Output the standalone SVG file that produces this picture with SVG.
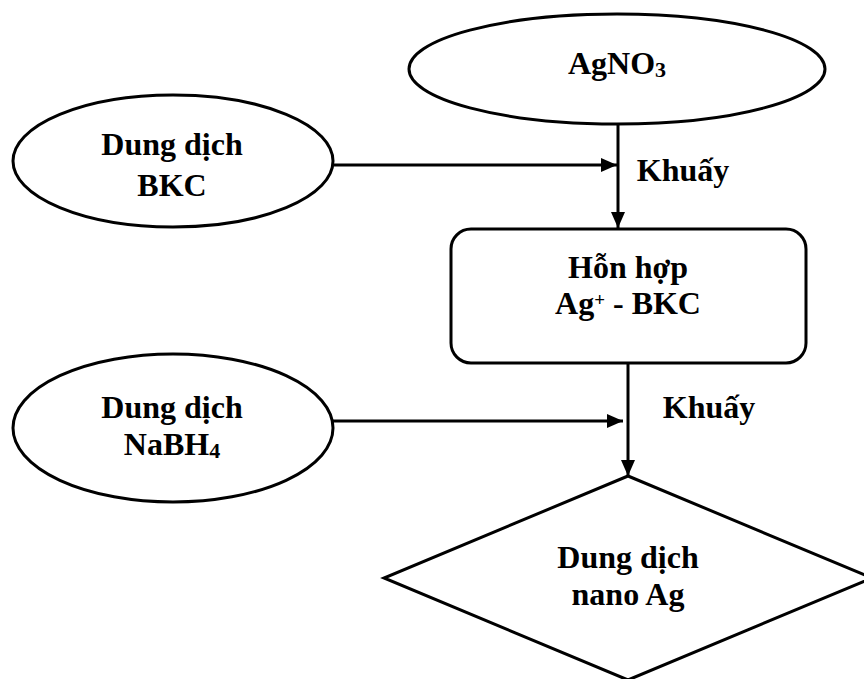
<svg xmlns="http://www.w3.org/2000/svg" width="864" height="679" viewBox="0 0 864 679">
<style>
.s{fill:#fff;stroke:#000;stroke-width:3}
.t{font-family:"Liberation Serif","Times New Roman",serif;font-weight:bold;font-size:32px;fill:#000;text-anchor:middle}
.c{fill:none;stroke:#000;stroke-width:3}
</style>
<defs>
<marker id="ah" markerUnits="userSpaceOnUse" markerWidth="16" markerHeight="14" refX="16" refY="7" orient="auto">
<path d="M0,0 L16,7 L0,14 Z" fill="#000"/>
</marker>
</defs>
<rect width="864" height="679" fill="#fff"/>
<g id="agno3">
<ellipse class="s" cx="617" cy="69" rx="208" ry="55"/>
<text class="t" x="617" y="74">AgNO<tspan font-size="22" dy="3">3</tspan></text>
</g>
<g id="bkc">
<ellipse class="s" cx="173" cy="161" rx="160" ry="66"/>
<text class="t" x="172" y="155">Dung dịch</text>
<text class="t" x="172" y="196">BKC</text>
</g>
<g id="hon-hop">
<rect class="s" x="451" y="229" width="355" height="134" rx="20" ry="20"/>
<text class="t" x="628" y="278">Hỗn hợp</text>
<text class="t" x="628" y="314">Ag<tspan font-size="19" dy="-8">+</tspan><tspan dy="8"> - BKC</tspan></text>
</g>
<g id="nabh4">
<ellipse class="s" cx="173" cy="428" rx="160" ry="74"/>
<text class="t" x="172" y="418">Dung dịch</text>
<text class="t" x="172" y="455">NaBH<tspan font-size="22" dy="3">4</tspan></text>
</g>
<g id="nano-ag">
<polygon class="s" points="628,476 872,578 628,680 384,578"/>
<text class="t" x="628" y="568">Dung dịch</text>
<text class="t" x="628" y="605">nano Ag</text>
</g>
<g id="connectors">
<line class="c" x1="618" y1="124" x2="618" y2="228" marker-end="url(#ah)"/>
<line class="c" x1="333" y1="165" x2="617" y2="165" marker-end="url(#ah)"/>
<line class="c" x1="628" y1="363" x2="628" y2="476" marker-end="url(#ah)"/>
<line class="c" x1="333" y1="421" x2="623" y2="421" marker-end="url(#ah)"/>
<text class="t" x="683" y="181">Khuấy</text>
<text class="t" x="709" y="418">Khuấy</text>
</g>
</svg>
